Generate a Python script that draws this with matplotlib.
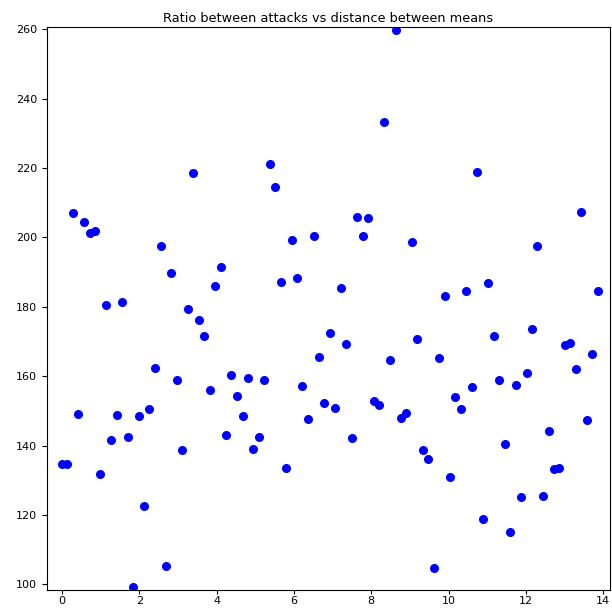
import matplotlib
matplotlib.use("Agg")
import matplotlib.pyplot as plt

# distance between means (x) and ratio between attacks (y)
distance = [0.00, 0.14, 0.28, 0.42, 0.57, 0.71, 0.85, 0.99, 1.13, 1.27,
            1.41, 1.56, 1.70, 1.84, 1.98, 2.12, 2.26, 2.40, 2.55, 2.69,
            2.83, 2.97, 3.11, 3.25, 3.39, 3.54, 3.68, 3.82, 3.96, 4.10,
            4.24, 4.38, 4.53, 4.67, 4.81, 4.95, 5.09, 5.23, 5.37, 5.52,
            5.66, 5.80, 5.94, 6.08, 6.22, 6.36, 6.51, 6.65, 6.79, 6.93,
            7.07, 7.21, 7.35, 7.49, 7.64, 7.78, 7.92, 8.06, 8.20, 8.34,
            8.48, 8.63, 8.77, 8.91, 9.05, 9.19, 9.33, 9.47, 9.62, 9.76,
            9.90, 10.04, 10.18, 10.32, 10.46, 10.61, 10.75, 10.89, 11.03, 11.17,
            11.31, 11.45, 11.60, 11.74, 11.88, 12.02, 12.16, 12.30, 12.44, 12.59,
            12.73, 12.87, 13.01, 13.15, 13.29, 13.43, 13.58, 13.72, 13.86]

ratio = [134.7, 134.7, 207.0, 149.2, 204.5, 201.4, 201.9, 131.7, 180.5, 141.7,
         148.7, 181.5, 142.5, 99.1, 148.5, 122.5, 150.6, 162.3, 197.5, 105.2,
         189.7, 159.0, 138.6, 179.3, 218.7, 176.1, 171.7, 156.0, 185.9, 191.5,
         143.1, 160.4, 154.2, 148.5, 159.5, 138.9, 142.5, 159.0, 221.3, 214.5,
         187.2, 133.6, 199.3, 188.2, 157.2, 147.6, 200.4, 165.5, 152.3, 172.4,
         150.9, 185.4, 169.3, 142.2, 205.8, 200.4, 205.5, 152.9, 151.6, 233.2,
         164.7, 259.8, 147.8, 149.5, 198.6, 170.8, 138.6, 136.0, 104.7, 165.2,
         183.1, 130.8, 154.1, 150.5, 184.6, 156.9, 218.9, 118.9, 187.0, 171.7,
         158.8, 140.4, 115.0, 157.4, 125.1, 161.0, 173.5, 197.5, 125.5, 144.3,
         133.1, 133.4, 169.0, 169.7, 162.2, 207.3, 147.3, 166.3, 184.6]

plt.rcParams.update({'font.size': 8})

fig = plt.figure(figsize=(6.12, 6.08), dpi=100)
ax = fig.add_axes([0.0768, 0.030, 0.92, 0.925])

ax.plot(distance, ratio, 'bo', markersize=5.5)

ax.set_xlim(-0.39, 14.18)
ax.set_ylim(98.4, 260.6)
ax.set_xticks(range(0, 15, 2))
ax.set_yticks(range(100, 261, 20))
ax.tick_params(axis='x', pad=1.5, length=3)
ax.set_title('Ratio between attacks vs distance between means', fontsize=9.3, pad=4)

fig.savefig('out.png', dpi=100)
